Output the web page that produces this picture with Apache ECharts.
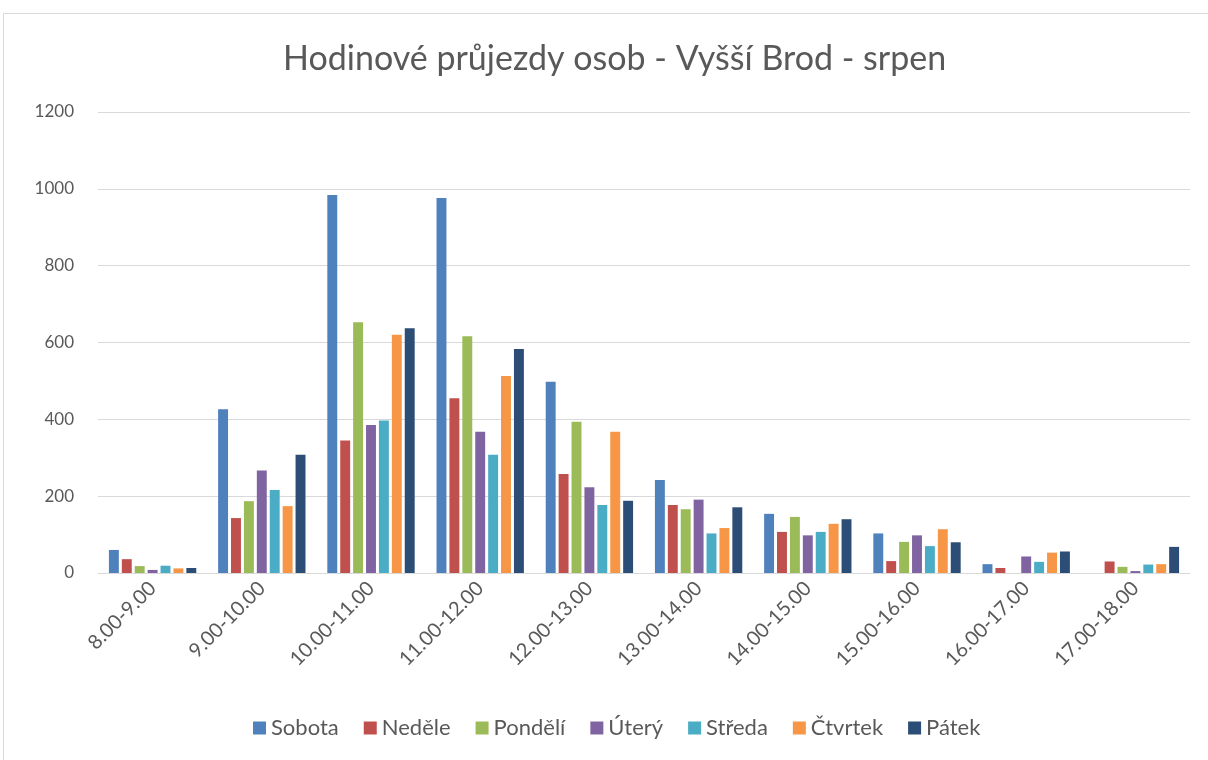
<!DOCTYPE html>
<html>
<head>
	<meta charset="utf-8">
	<title>Hodinové průjezdy osob - Vyšší Brod - srpen</title>
	<script src="https://cdn.jsdelivr.net/npm/echarts@6/dist/echarts.min.js"></script>
	<style type="text/css">
		html, body { margin: 0; padding: 0; background: #ffffff; }
		#frame {
			position: absolute;
			left: 3px; top: 13px;
			width: 1220px; height: 760px;
			border: 1px solid #d9d9d9;
			box-sizing: border-box;
		}
		#chartContainer {
			position: absolute;
			left: 0; top: 0;
			width: 1208px; height: 760px;
		}
	</style>
</head>
<body>
	<div id="frame"></div>
	<div id="chartContainer"></div>
	<script type="text/javascript">
		var hours = ['8.00-9.00', '9.00-10.00', '10.00-11.00', '11.00-12.00', '12.00-13.00',
			'13.00-14.00', '14.00-15.00', '15.00-16.00', '16.00-17.00', '17.00-18.00'];
		var days = ['Sobota', 'Neděle', 'Pondělí', 'Úterý', 'Středa', 'Čtvrtek', 'Pátek'];
		var colors = ['#4f81bd', '#c0504d', '#9bbb59', '#8064a2', '#4bacc6', '#f79646', '#2c4d75'];

		var sobota  = [60, 426, 984, 976, 498, 242, 154, 103, 23, 0];
		var nedele  = [36, 143, 345, 455, 258, 177, 107, 31, 13, 30];
		var pondeli = [18, 187, 653, 616, 394, 166, 146, 81, 0, 16];
		var utery   = [8, 267, 385, 368, 223, 191, 98, 98, 43, 5];
		var streda  = [19, 216, 397, 308, 177, 103, 107, 70, 29, 22];
		var ctvrtek = [12, 174, 620, 513, 368, 117, 128, 114, 53, 23];
		var patek   = [13, 308, 637, 583, 188, 171, 140, 80, 56, 68];
		var values = [sobota, nedele, pondeli, utery, streda, ctvrtek, patek];

		var textColor = '#595959';
		var font = 'Lato, "Open Sans", sans-serif';

		var myChart = echarts.init(document.getElementById('chartContainer'));
		var series = [];
		for (var i = 0; i < days.length; i++) {
			series.push({
				name: days[i],
				type: 'bar',
				data: values[i],
				barGap: '30%',
				barCategoryGap: '20%',
				itemStyle: { color: colors[i] }
			});
		}

		var option = {
			animation: false,
			backgroundColor: 'transparent',
			color: colors,
			title: {
				text: 'Hodinové průjezdy osob - Vyšší Brod - srpen',
				left: 278,
				top: 37,
				textStyle: { color: textColor, fontSize: 34, fontWeight: 'normal', fontFamily: font }
			},
			legend: {
				bottom: 16,
				left: 248,
				itemWidth: 13,
				itemHeight: 13,
				itemGap: 25,
				icon: 'rect',
				textStyle: { color: textColor, fontSize: 22, fontFamily: font },
				data: days
			},
			grid: { left: 98, right: 18, top: 112, bottom: 187, containLabel: false },
			xAxis: {
				type: 'category',
				data: hours,
				axisTick: { show: false },
				axisLine: { lineStyle: { color: '#d9d9d9', width: 1 } },
				axisLabel: {
					rotate: 45,
					interval: 0,
					margin: 12,
					color: textColor,
					fontSize: 20,
					fontFamily: font
				}
			},
			yAxis: {
				type: 'value',
				min: 0,
				max: 1200,
				interval: 200,
				axisLine: { show: false },
				axisTick: { show: false },
				splitLine: { lineStyle: { color: '#d9d9d9', width: 1 } },
				axisLabel: {
					color: textColor,
					fontSize: 17,
					fontFamily: font,
					margin: 24,
					formatter: function (v) { return String(v); }
				}
			},
			series: series
		};
		myChart.setOption(option);
	</script>
</body>
</html>
